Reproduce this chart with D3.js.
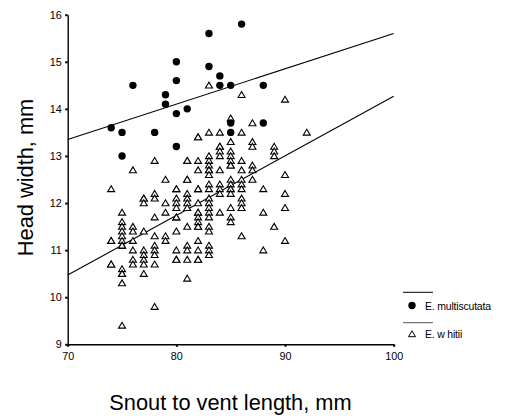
<!DOCTYPE html>
<html>
<head>
<meta charset="utf-8">
<script src="https://cdn.jsdelivr.net/npm/d3@7"></script>
<style>
  html, body { margin: 0; padding: 0; background: #fff; }
  svg { display: block; font-family: "Liberation Sans", Arial, sans-serif; }
</style>
</head>
<body>
<svg id="chart" width="513" height="416"></svg>
<script>
// ---- data ----
const xTicks = [70, 80, 90, 100];
const yTicks = [9, 10, 11, 12, 13, 14, 15, 16];

// E. multiscutata: [snout-vent length, head width]
const multiscutata = [
  [74, 13.6], [75, 13.5], [75, 13.0], [76, 14.5], [78, 13.5],
  [79, 14.3], [79, 14.1], [80, 15.0], [80, 14.6], [80, 13.9], [80, 13.2],
  [81, 14.0], [83, 15.6], [83, 14.9], [84, 14.7], [84, 14.5],
  [85, 14.5], [85, 13.7], [85, 13.5], [86, 15.8], [88, 14.5], [88, 13.7]
];

// E. whitii: head widths grouped by snout-vent length
const whitiiSVL = [74, 75, 76, 77, 78, 79, 80, 81, 82, 83, 84, 85, 86, 87, 88, 89, 90, 92];
const whitiiHW = [
  [12.3, 11.2, 11.2, 10.7, 10.7],
  [11.8, 11.6, 11.5, 11.4, 11.3, 11.2, 11.1, 11.1, 10.6, 10.5, 10.5, 10.3, 9.4],
  [12.7, 11.5, 11.4, 11.2, 11.0, 10.8, 10.7],
  [12.1, 12.1, 12.0, 11.4, 11.0, 10.9, 10.8, 10.7, 10.5],
  [12.9, 12.2, 12.1, 11.7, 11.3, 11.1, 11.0, 10.9, 10.7, 9.8],
  [12.5, 12.0, 11.8, 11.3, 11.2],
  [12.3, 12.3, 12.1, 12.0, 11.9, 11.7, 11.7, 11.4, 11.0, 10.8, 10.8],
  [12.9, 12.9, 12.5, 12.5, 12.2, 12.1, 12.0, 11.9, 11.5, 11.1, 11.0, 10.8, 10.4],
  [13.4, 13.4, 12.9, 12.7, 12.3, 12.3, 12.0, 11.8, 11.8, 11.7, 11.6, 11.5, 11.5, 11.2, 11.0, 10.8, 10.8],
  [14.5, 13.5, 13.0, 12.9, 12.8, 12.7, 12.7, 12.6, 12.4, 12.3, 12.1, 12.0, 11.9, 11.8, 11.7, 11.5, 11.4, 11.1, 11.0, 10.9],
  [13.5, 13.2, 13.2, 13.1, 13.0, 12.7, 12.4, 12.3, 12.2, 11.8],
  [13.8, 13.3, 13.1, 13.0, 12.9, 12.8, 12.8, 12.5, 12.4, 12.3, 12.3, 12.2, 11.9, 11.7, 11.6],
  [14.3, 13.5, 12.9, 12.7, 12.5, 12.4, 12.3, 12.1, 12.0, 11.9, 11.3],
  [13.7, 13.3, 13.2, 12.8, 12.7, 12.5],
  [12.3, 11.8, 11.0],
  [13.2, 13.1, 13.0, 11.5],
  [14.2, 12.6, 12.2, 11.9, 11.2],
  [13.5]
];

// fitted lines: value at x = 70 and x = 100
const fitMultiscutata = [[70, 13.35], [100, 15.6]];
const fitWhitii = [[70, 10.47], [100, 14.27]];

const legendLabels = ["E. multiscutata", "E. w hitii"];

// ---- chart ----
const svg = d3.select("#chart");
const x = d3.scaleLinear().domain([70, 100]).range([67.7, 393.7]);
const y = d3.scaleLinear().domain([9, 16]).range([344.3, 14.7]);

const whitii = [];
whitiiSVL.forEach((s, i) => whitiiHW[i].forEach(v => whitii.push([s, v])));

// axes
const xAxis = d3.axisBottom(x).tickValues(xTicks).tickFormat(d3.format("d"))
  .tickSize(2.5).tickSizeOuter(0).tickPadding(6);
const yAxis = d3.axisLeft(y).tickValues(yTicks).tickFormat(d3.format("d"))
  .tickSize(2.5).tickSizeOuter(0).tickPadding(3.5);

const gx = svg.append("g").attr("transform", `translate(0,${y(9)})`).call(xAxis);
const gy = svg.append("g").attr("transform", `translate(${x(70)},0)`).call(yAxis);
[gx, gy].forEach(g => {
  g.select(".domain").attr("stroke", "#000").attr("stroke-width", 1.4);
  g.selectAll(".tick line").attr("stroke", "#000").attr("stroke-width", 2);
  g.selectAll(".tick text").attr("fill", "#000").style("font-size", "10.8px")
    .style("font-family", "'Liberation Sans', Arial, sans-serif");
});

// fit lines
const line = d3.line().x(d => x(d[0])).y(d => y(d[1]));
[fitMultiscutata, fitWhitii].forEach(f => {
  svg.append("path").attr("d", line(f)).attr("fill", "none")
    .attr("stroke", "#000").attr("stroke-width", 1.1);
});

// triangle marker path
const tri = (cx, cy) => `M${cx},${cy - 3.2}L${cx + 3.5},${cy + 2.7}L${cx - 3.5},${cy + 2.7}Z`;

svg.append("g").selectAll("path").data(whitii).join("path")
  .attr("d", d => tri(x(d[0]), y(d[1])))
  .attr("fill", "#fff").attr("stroke", "#000").attr("stroke-width", 1.1);

svg.append("g").selectAll("circle").data(multiscutata).join("circle")
  .attr("cx", d => x(d[0])).attr("cy", d => y(d[1])).attr("r", 3.7)
  .attr("fill", "#000");

// legend
const lg = svg.append("g");
lg.append("line").attr("x1", 403).attr("x2", 433).attr("y1", 292.3).attr("y2", 292.3)
  .attr("stroke", "#000").attr("stroke-width", 1);
lg.append("circle").attr("cx", 412).attr("cy", 305.5).attr("r", 3.7).attr("fill", "#000");
lg.append("text").attr("x", 425).attr("y", 309.5).text(legendLabels[0])
  .style("font-size", "10.5px").attr("fill", "#000").attr("letter-spacing", "-0.2");
lg.append("line").attr("x1", 403).attr("x2", 433).attr("y1", 322.7).attr("y2", 322.7)
  .attr("stroke", "#555").attr("stroke-width", 1);
lg.append("path").attr("d", tri(412, 334)).attr("fill", "#fff").attr("stroke", "#000").attr("stroke-width", 1);
lg.append("text").attr("x", 425).attr("y", 338).text(legendLabels[1])
  .style("font-size", "10.5px").attr("fill", "#000").attr("letter-spacing", "-0.2");

// axis titles
svg.append("text").attr("x", 230.5).attr("y", 409.5).attr("text-anchor", "middle")
  .style("font-size", "21.8px").attr("fill", "#000").text("Snout to vent length, mm");
svg.append("text").attr("transform", "translate(32.5,177.5) rotate(-90)").attr("text-anchor", "middle")
  .style("font-size", "21.8px").attr("fill", "#000").text("Head width, mm");
</script>
</body>
</html>
